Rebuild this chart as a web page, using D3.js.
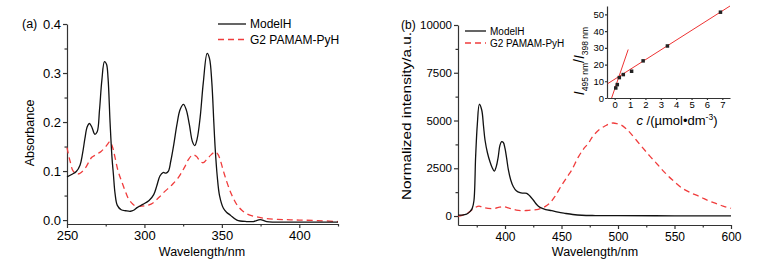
<!DOCTYPE html>
<html>
<head>
<meta charset="utf-8">
<script src="https://cdn.jsdelivr.net/npm/d3@7/dist/d3.min.js"></script>
<style>
body { margin: 0; background: #fff; }
svg { display: block; font-family: Arial, 'Liberation Sans', sans-serif; }
.axis path, .axis line { stroke: #333; stroke-width: 1.2; }
.axis text { fill: #000; }
.black-line { fill: none; stroke: #111; stroke-width: 1.3; }
.red-line { fill: none; stroke: #f03c3c; stroke-width: 1.3; stroke-dasharray: 6,4; }
.fit-line { fill: none; stroke: #ee3333; stroke-width: 1; }
</style>
</head>
<body>
<div class="container"></div>
<script>
var WIDTH = 771;
var HEIGHT = 269;

// (a) absorbance spectra: [wavelength nm, absorbance]
var absModel = [
    [250, 0.088], [253, 0.093], [256, 0.099], [258.4, 0.112], [260, 0.135], [261.6, 0.167],
    [263, 0.19], [264.5, 0.197], [266, 0.19], [268, 0.175], [269.5, 0.18], [271, 0.225],
    [272.5, 0.285], [274.2, 0.323], [275.5, 0.318], [276.5, 0.29], [277.8, 0.2], [279, 0.13],
    [280, 0.092], [281, 0.055], [282.5, 0.03], [285, 0.021], [288, 0.019], [291, 0.018],
    [293, 0.02], [295.5, 0.026], [299, 0.032], [303, 0.04], [306, 0.052], [308, 0.07],
    [310, 0.09], [312, 0.097], [314, 0.096], [315.5, 0.1], [317, 0.12], [319, 0.155],
    [321, 0.195], [323, 0.225], [325.2, 0.236], [327, 0.225], [329, 0.195], [331, 0.16],
    [332.5, 0.152], [334, 0.165], [336, 0.21], [338, 0.28], [340.5, 0.34], [342, 0.33],
    [343.5, 0.282], [344.8, 0.2], [345.7, 0.146], [347, 0.09], [348.5, 0.05], [351, 0.024],
    [353, 0.016], [355.5, 0.01], [359.7, 0.0], [366, -0.003], [370.4, -0.003], [374.8, 0.001],
    [379, -0.003], [400, -0.004], [425, -0.004]
];
var absPamam = [
    [250, 0.148], [252, 0.12], [254, 0.1], [257, 0.094], [259.5, 0.098], [262, 0.107],
    [264, 0.118], [266, 0.128], [269, 0.134], [272, 0.14], [275.5, 0.152], [277.8, 0.16],
    [279.5, 0.148], [281, 0.128], [283, 0.1], [285.4, 0.078], [287.5, 0.06], [289.6, 0.044],
    [292, 0.034], [294, 0.029], [297, 0.028], [300, 0.029], [303, 0.031], [305.5, 0.035],
    [308, 0.042], [310, 0.048], [313, 0.058], [316.6, 0.068], [319, 0.076], [322, 0.087],
    [324.5, 0.1], [326.3, 0.11], [328.5, 0.124], [331.3, 0.133], [333.5, 0.13], [336, 0.12],
    [338, 0.117], [340.3, 0.124], [343, 0.133], [345.7, 0.139], [347.5, 0.134], [349, 0.122],
    [351, 0.1], [353.2, 0.078], [355.5, 0.058], [357.5, 0.044], [360, 0.03], [362.9, 0.02],
    [366, 0.013], [370.4, 0.008], [375, 0.005], [379, 0.003], [390, 0.001], [400, 0],
    [412, -0.001], [425, -0.003]
];

// (b) fluorescence spectra: [wavelength nm, normalized intensity]
var flModel = [
    [358.5, 50], [362, 50], [366, 100], [369, 230], [371, 400], [372.5, 800], [374, 3100],
    [375.5, 4800], [377.3, 5850], [379.4, 5550], [381, 4700], [382.3, 3980], [384.5, 3300],
    [386.7, 2840], [388.5, 2550], [390.5, 2350], [392.3, 2600], [394, 3100], [395.5, 3700],
    [397, 3890], [398.5, 3850], [400, 3540], [401.5, 3000], [403, 2410], [405, 1900],
    [407.4, 1530], [410, 1320], [413.3, 1220], [416, 1200], [419.2, 1190], [422, 1050],
    [425, 840], [428, 600], [431, 450], [436, 340], [441.3, 280], [447, 200], [453, 140],
    [460, 80], [468, 40], [480, 25], [500, 18], [550, 12], [600, 10]
];
var flPamam = [
    [358.5, 0], [362, 40], [364.6, 100], [367.5, 180], [370.5, 310], [373, 420], [377, 520],
    [380, 460], [385, 400], [391, 400], [395, 460], [398.5, 490], [402, 440], [406, 380],
    [410, 310], [414.8, 280], [419, 290], [423.6, 310], [429.5, 350], [435.4, 490], [440, 700],
    [444, 1010], [450, 1600], [455, 2050], [459, 2400], [465, 3100], [470, 3550], [473.7, 3800],
    [478, 4200], [484, 4550], [488.5, 4710], [492, 4820], [495.6, 4870], [499, 4840],
    [503, 4760], [507, 4580], [511, 4340], [520, 3700], [528, 3150], [535, 2700], [541, 2300],
    [548, 1900], [557, 1450], [565, 1200], [573, 1000], [580, 800], [587, 650], [593, 520],
    [600, 400]
];

// inset: concentration vs ratio
var insetConc = [0.07, 0.17, 0.3, 0.56, 1.1, 1.85, 3.43, 6.88];
var insetRatio = [6.0, 8.0, 12.2, 14.0, 16.0, 22.2, 31.1, 51.3];
var fitLow = [[-0.2, 0], [0.88, 29]];
var fitHigh = [[-0.45, 8.6], [7.5, 55]];

var absTicks = [0, 0.1, 0.2, 0.3, 0.4];
var absMinor = [0.05, 0.15, 0.25, 0.35];
var absWaveTicks = [250, 300, 350, 400];
var absWaveMinor = [275, 325, 375, 425];
var flTicks = [0, 2500, 5000, 7500, 10000];
var flMinor = [1250, 3750, 6250, 8750];
var flWaveTicks = [400, 450, 500, 550, 600];
var flWaveMinor = [375, 425, 475, 525, 575];
var insetYTicks = [0, 10, 20, 30, 40, 50];
var insetXTicks = [0, 1, 2, 3, 4, 5, 6, 7];

var legendNames = ['ModelH', 'G2 PAMAM-PyH'];

var translate = function (x, y) {
    return 'translate(' + x + ',' + y + ')';
};

var svg = d3.select('.container').append('svg')
    .attr('width', WIDTH)
    .attr('height', HEIGHT);

var drawAxes = function (x, y, o) {
    var yAxis = d3.axisLeft(y).tickValues(o.yTicks).tickSize(o.major).tickSizeOuter(0)
        .tickPadding(2).tickFormat(o.yFormat);
    var yMinor = d3.axisLeft(y).tickValues(o.yMinor || []).tickSize(o.minor).tickFormat('');
    var xAxis = d3.axisBottom(x).tickValues(o.xTicks).tickSize(o.major).tickSizeOuter(0)
        .tickPadding(3).tickFormat(d3.format('d'));
    var xMinor = d3.axisBottom(x).tickValues(o.xMinor || []).tickSize(o.minor).tickFormat('');
    var y0 = y.range()[0];
    var x0 = x.range()[0];

    var gy = svg.append('g').attr('class', 'axis').attr('transform', translate(x0, 0)).call(yAxis);
    gy.selectAll('text').style('font-size', o.yFont);
    svg.append('g').attr('class', 'axis').attr('transform', translate(x0, 0)).call(yMinor)
        .select('.domain').remove();
    var gx = svg.append('g').attr('class', 'axis').attr('transform', translate(0, y0)).call(xAxis);
    gx.selectAll('text').style('font-size', o.xFont);
    svg.append('g').attr('class', 'axis').attr('transform', translate(0, y0)).call(xMinor)
        .select('.domain').remove();
    svg.selectAll('.axis text').attr('font-family', null);
};

var lineGen = function (x, y) {
    return d3.line()
        .x(function (d) { return x(d[0]); })
        .y(function (d) { return y(d[1]); })
        .curve(d3.curveCatmullRom.alpha(0.5));
};

var drawLegend = function (x1, x2, yTop, gap, font) {
    var g = svg.append('g');
    legendNames.forEach(function (name, i) {
        var yy = yTop + i * gap;
        g.append('line').attr('x1', x1).attr('x2', x2).attr('y1', yy).attr('y2', yy)
            .attr('class', i === 0 ? 'black-line' : 'red-line');
        g.append('text').attr('x', x2 + 4).attr('y', yy).attr('dy', '0.36em')
            .style('font-size', font).text(name);
    });
};

// ---------- panel (a)
var drawPanelA = function () {
    var x = d3.scaleLinear().domain([250, 425]).range([67, 338]);
    var y = d3.scaleLinear().domain([-0.008, 0.4]).range([224, 24]);
    drawAxes(x, y, {
        yTicks: absTicks, yMinor: absMinor, xTicks: absWaveTicks, xMinor: absWaveMinor,
        yFormat: d3.format('.1f'), major: 4, minor: 2.5, yFont: '13px', xFont: '13px'
    });
    var line = lineGen(x, y);
    svg.append('path').datum(absPamam).attr('class', 'red-line').attr('d', line);
    svg.append('path').datum(absModel).attr('class', 'black-line').attr('d', line);

    svg.append('text').attr('x', 22).attr('y', 28).style('font-size', '12.5px').text('(a)');
    svg.append('text').attr('transform', 'translate(34,133) rotate(-90)')
        .attr('text-anchor', 'middle').style('font-size', '12.5px').text('Absorbance');
    svg.append('text').attr('x', 202).attr('y', 256).attr('text-anchor', 'middle')
        .style('font-size', '12.5px').text('Wavelength/nm');
    drawLegend(218, 246, 24, 15.5, '12px');
};

// ---------- panel (b)
var drawPanelB = function () {
    var x = d3.scaleLinear().domain([358.4, 600]).range([458, 731]);
    var y = d3.scaleLinear().domain([-470, 10000]).range([225, 25]);
    drawAxes(x, y, {
        yTicks: flTicks, yMinor: flMinor, xTicks: flWaveTicks, xMinor: flWaveMinor,
        yFormat: d3.format('d'), major: 4, minor: 2.5, yFont: '11.5px', xFont: '12px'
    });
    var line = lineGen(x, y);
    svg.append('path').datum(flPamam).attr('class', 'red-line').attr('d', line);
    svg.append('path').datum(flModel).attr('class', 'black-line').attr('d', line);

    svg.append('text').attr('x', 401).attr('y', 29).style('font-size', '12px').text('(b)');
    svg.append('text').attr('transform', 'translate(411,116) rotate(-90)')
        .attr('text-anchor', 'middle').style('font-size', '12px')
        .attr('textLength', 168).attr('lengthAdjust', 'spacingAndGlyphs')
        .text('Normalized intensity/a.u.');
    svg.append('text').attr('x', 595).attr('y', 256).attr('text-anchor', 'middle')
        .style('font-size', '12.5px').text('Wavelength/nm');
    drawLegend(465, 486, 31, 12, '10px');
};

// ---------- inset
var drawInset = function () {
    var x = d3.scaleLinear().domain([-0.5, 7.5]).range([607, 730]);
    var y = d3.scaleLinear().domain([0, 55]).range([98, 6]);
    var yAxis = d3.axisLeft(y).tickValues(insetYTicks).tickSize(2).tickSizeOuter(0).tickPadding(1);
    var xAxis = d3.axisBottom(x).tickValues(insetXTicks).tickSize(2).tickSizeOuter(0).tickPadding(1);
    var gy = svg.append('g').attr('class', 'axis').attr('transform', translate(607, 0)).call(yAxis);
    var gx = svg.append('g').attr('class', 'axis').attr('transform', translate(0, 98)).call(xAxis);
    gy.selectAll('text').style('font-size', '9.5px');
    gx.selectAll('text').style('font-size', '9.5px');
    svg.selectAll('.axis text').attr('font-family', null);

    var fit = d3.line().x(function (d) { return x(d[0]); }).y(function (d) { return y(d[1]); });
    svg.append('path').datum(fitLow).attr('class', 'fit-line').attr('d', fit);
    svg.append('path').datum(fitHigh).attr('class', 'fit-line').attr('d', fit);

    svg.append('g').selectAll('rect')
        .data(insetConc)
        .enter().append('rect')
        .attr('x', function (d) { return x(d) - 1.75; })
        .attr('y', function (d, i) { return y(insetRatio[i]) - 1.75; })
        .attr('width', 3.5).attr('height', 3.5)
        .attr('fill', '#222');

    var xl = svg.append('text').attr('x', 677).attr('y', 125).attr('text-anchor', 'middle')
        .style('font-size', '13px');
    xl.append('tspan').style('font-style', 'italic').text('c');
    xl.append('tspan').text(' /(\u00b5mol\u2022dm');
    xl.append('tspan').attr('dy', -5).style('font-size', '8.5px').text('-3');
    xl.append('tspan').attr('dy', 5).text(')');

    var yl = svg.append('text').attr('transform', 'translate(584,61) rotate(-90)')
        .attr('text-anchor', 'middle').style('font-size', '14px');
    yl.append('tspan').style('font-style', 'italic').text('I');
    yl.append('tspan').attr('dy', 4).style('font-size', '8.5px').text('495 nm');
    yl.append('tspan').attr('dy', -4).text('/');
    yl.append('tspan').style('font-style', 'italic').text('I');
    yl.append('tspan').attr('dy', 4).style('font-size', '8.5px').text('398 nm');
};

drawPanelA();
drawPanelB();
drawInset();
</script>
</body>
</html>
